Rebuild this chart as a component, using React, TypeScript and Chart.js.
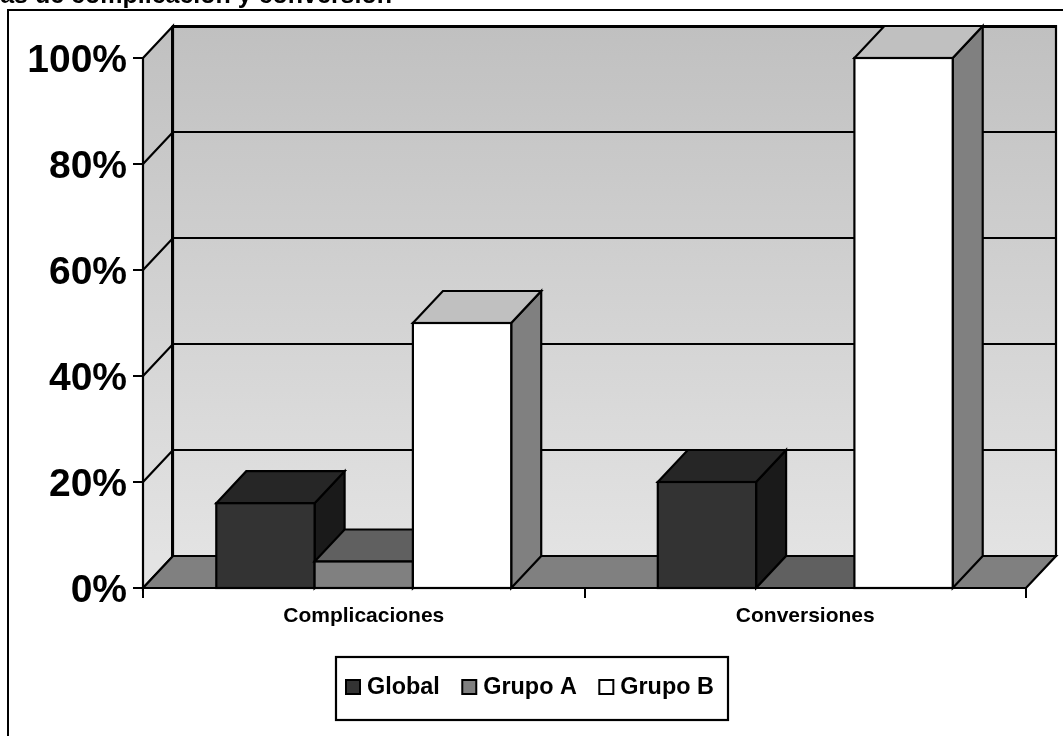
import { useEffect, useRef } from "react";
import { Chart, registerables } from "chart.js";

Chart.register(...registerables);

const categories = ["Complicaciones", "Conversiones"];
const seriesNames = ["Global", "Grupo A", "Grupo B"];
const globalValues = [16, 20];
const grupoAValues = [5, 0];
const grupoBValues = [50, 100];
const yTicks = [0, 20, 40, 60, 80, 100];
const titleText = "Tasas de complicación y conversión";

const frontColors = ["#333333", "#808080", "#ffffff"];
const topColors = ["#262626", "#606060", "#c0c0c0"];
const sideColors = ["#1a1a1a", "#404040", "#808080"];

const FONT = '"Liberation Sans", Arial, sans-serif';
const DEPTH_X = 30;
const DEPTH_Y = 32;
const LINE = 2.2;

function poly(ctx: CanvasRenderingContext2D, pts: number[][], fill: string | CanvasGradient | null, lw = LINE) {
  ctx.beginPath();
  pts.forEach(([x, y], i) => (i ? ctx.lineTo(x, y) : ctx.moveTo(x, y)));
  ctx.closePath();
  if (fill) {
    ctx.fillStyle = fill;
    ctx.fill();
  }
  ctx.lineWidth = lw;
  ctx.strokeStyle = "#000";
  ctx.lineJoin = "miter";
  ctx.stroke();
}

// Back wall, left wall, floor and the gridlines that run across them.
const wallsPlugin = {
  id: "walls",
  beforeDraw(chart: any) {
    const { ctx, scales } = chart;
    const { left, right, top, bottom } = chart.chartArea;
    const y = scales.y;
    ctx.save();
    ctx.fillStyle = "#fff";
    ctx.fillRect(0, 0, chart.width, chart.height);

    // Outer frame, running past the canvas on the right and bottom.
    ctx.lineWidth = 2;
    ctx.strokeStyle = "#000";
    ctx.strokeRect(8, 10, chart.width + 20, chart.height + 20);

    // Title clipped at the top of the page.
    ctx.fillStyle = "#000";
    ctx.font = `bold 25px ${FONT}`;
    ctx.textAlign = "right";
    ctx.textBaseline = "alphabetic";
    ctx.fillText(titleText, 392, 3);

    const grad = ctx.createLinearGradient(0, top - DEPTH_Y, 0, bottom - DEPTH_Y);
    grad.addColorStop(0, "#c0c0c0");
    grad.addColorStop(1, "#e3e3e3");

    poly(ctx, [
      [left, top],
      [left + DEPTH_X, top - DEPTH_Y],
      [left + DEPTH_X, bottom - DEPTH_Y],
      [left, bottom],
    ], grad);
    poly(ctx, [
      [left + DEPTH_X, top - DEPTH_Y],
      [right + DEPTH_X, top - DEPTH_Y],
      [right + DEPTH_X, bottom - DEPTH_Y],
      [left + DEPTH_X, bottom - DEPTH_Y],
    ], grad);
    poly(ctx, [
      [left, bottom],
      [left + DEPTH_X, bottom - DEPTH_Y],
      [right + DEPTH_X, bottom - DEPTH_Y],
      [right, bottom],
    ], "#808080");

    ctx.lineWidth = 3;
    ctx.beginPath();
    ctx.moveTo(left + DEPTH_X - 1, top - DEPTH_Y + 0.5);
    ctx.lineTo(right + DEPTH_X + 1, top - DEPTH_Y + 0.5);
    ctx.moveTo(left + DEPTH_X - 0.5, top - DEPTH_Y);
    ctx.lineTo(left + DEPTH_X - 0.5, bottom - DEPTH_Y);
    ctx.stroke();

    ctx.lineWidth = LINE;
    ctx.beginPath();
    y.ticks.forEach((t: any) => {
      const py = y.getPixelForValue(t.value);
      if (t.value === 0 || t.value === 100) return;
      ctx.moveTo(left, py);
      ctx.lineTo(left + DEPTH_X, py - DEPTH_Y);
      ctx.lineTo(right + DEPTH_X, py - DEPTH_Y);
    });
    ctx.stroke();
    ctx.restore();
  },
  // Bars are painted left to right so each one overlaps its left neighbour's side face.
  beforeDatasetsDraw(chart: any) {
    const { ctx } = chart;
    const base = chart.scales.y.getPixelForValue(0);
    ctx.save();
    chart.data.datasets.forEach((_: any, i: number) => {
      chart.getDatasetMeta(i).data.forEach((el: any) => {
        const { x, y, width } = el.getProps(["x", "y", "width"], true);
        const l = x - width / 2;
        const r = x + width / 2;
        if (base - y > 0) {
          poly(ctx, [
            [r, y],
            [r + DEPTH_X, y - DEPTH_Y],
            [r + DEPTH_X, base - DEPTH_Y],
            [r, base],
          ], sideColors[i]);
        }
        poly(ctx, [
          [l, y],
          [l + DEPTH_X, y - DEPTH_Y],
          [r + DEPTH_X, y - DEPTH_Y],
          [r, y],
        ], topColors[i]);
        el.draw(ctx);
        ctx.lineWidth = LINE;
        ctx.strokeStyle = "#000";
        ctx.strokeRect(l, y, width, base - y);
      });
    });
    ctx.restore();
    return false;
  },
  // Boxed legend under the plot.
  afterDraw(chart: any) {
    const { ctx } = chart;
    const bx = 336;
    const by = 657;
    const bw = 392;
    const bh = 63;
    ctx.save();
    ctx.fillStyle = "#fff";
    ctx.fillRect(bx, by, bw, bh);
    ctx.lineWidth = LINE;
    ctx.strokeStyle = "#000";
    ctx.strokeRect(bx, by, bw, bh);
    ctx.font = `bold 23.4px ${FONT}`;
    ctx.textBaseline = "middle";
    ctx.textAlign = "left";
    let cx = 346;
    chart.data.datasets.forEach((ds: any, i: number) => {
      ctx.fillStyle = frontColors[i];
      ctx.fillRect(cx, 680, 14, 14);
      ctx.lineWidth = 2;
      ctx.strokeStyle = "#000";
      ctx.strokeRect(cx, 680, 14, 14);
      ctx.fillStyle = "#000";
      ctx.fillText(ds.label, cx + 21, 688);
      cx += 21 + ctx.measureText(ds.label).width + 22.5;
    });
    ctx.restore();
  },
};

export default function App() {
  const ref = useRef<HTMLCanvasElement>(null);

  useEffect(() => {
    const chart = new Chart(ref.current!, {
      type: "bar",
      data: {
        labels: categories,
        datasets: [globalValues, grupoAValues, grupoBValues].map((data, i) => ({
          label: seriesNames[i],
          data,
          backgroundColor: frontColors[i],
          borderWidth: 0,
          barPercentage: 1,
          categoryPercentage: 0.668,
        })),
      },
      options: {
        animation: false,
        responsive: false,
        layout: { padding: { left: 0, right: 37, top: 58, bottom: 0 } },
        plugins: {
          legend: { display: false },
          title: { display: false },
          tooltip: { enabled: false },
        },
        scales: {
          x: {
            afterFit(scale: any) {
              scale.height = 148;
            },
            grid: { drawOnChartArea: false, tickLength: 10, color: "#000", lineWidth: 2, offset: true },
            border: { color: "#000", width: 2 },
            ticks: { color: "#000", font: { family: FONT, size: 21, weight: "bold" }, padding: 6, maxRotation: 0 },
          },
          y: {
            min: 0,
            max: 100,
            afterFit(scale: any) {
              scale.width = 143;
            },
            afterBuildTicks(scale: any) {
              scale.ticks = yTicks.map((value) => ({ value }));
            },
            grid: { drawOnChartArea: false, tickLength: 10, color: "#000", lineWidth: 2 },
            border: { color: "#000", width: 2 },
            ticks: {
              color: "#000",
              font: { family: FONT, size: 39, weight: "bold" },
              padding: 6,
              labelOffset: 3,
              callback: (v: any) => `${v}%`,
            },
          },
        },
      },
      plugins: [wallsPlugin],
    } as any);
    return () => chart.destroy();
  }, []);

  return (
    <div style={{ position: "fixed", left: 0, top: 0, width: 1063, height: 736, overflow: "hidden", background: "#fff" }}>
      <canvas ref={ref} width={1063} height={736} style={{ display: "block" }} />
    </div>
  );
}
